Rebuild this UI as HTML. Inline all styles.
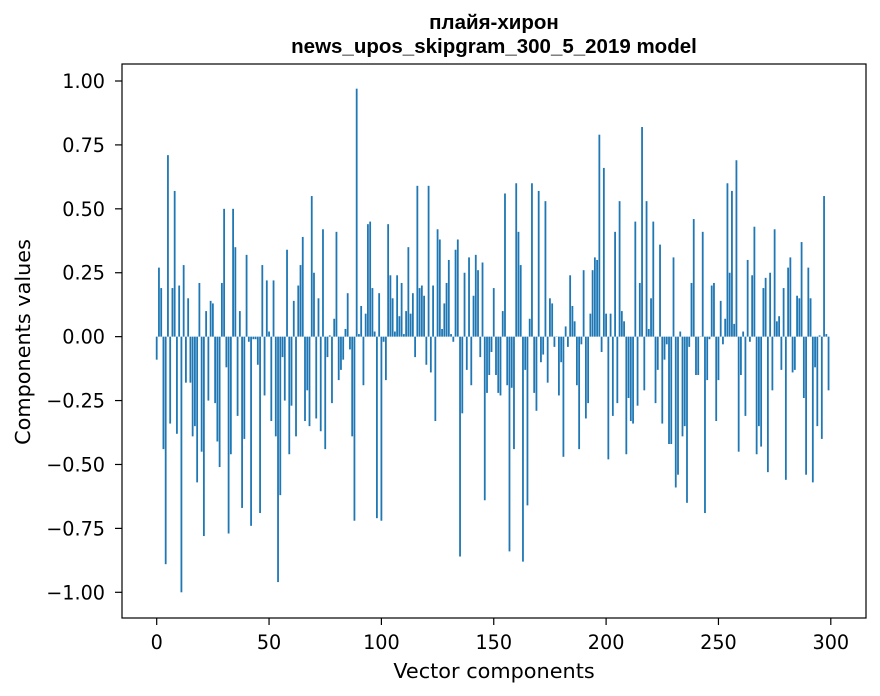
<!DOCTYPE html>
<html><head><meta charset="utf-8"><style>
body{margin:0;background:#fff;}
svg{display:block;font-family:"DejaVu Sans","Liberation Sans",sans-serif;}
</style></head><body>
<svg width="880" height="696" viewBox="0 0 880 696">
<rect x="0" y="0" width="880" height="696" fill="#fff"/>
<text x="494" y="29" text-anchor="middle" font-size="20.5" font-weight="bold" font-family="Liberation Sans, sans-serif">плайя-хирон</text>
<text x="494" y="53" text-anchor="middle" font-size="20.5" font-weight="bold" font-family="Liberation Sans, sans-serif">news_upos_skipgram_300_5_2019 model</text>
<g id="bars"></g>
<rect x="122" y="64" width="744" height="554" fill="none" stroke="#000" stroke-width="1.2"/>
<g id="xticks"></g>
<g id="yticks"></g>
<text x="494" y="678" text-anchor="middle" font-size="20.8">Vector components</text>
<text transform="translate(30,342) rotate(-90)" text-anchor="middle" font-size="20.8">Components values</text>
</svg>
<script>
const values = [-0.09,0.27,0.19,-0.44,-0.89,0.71,-0.34,0.19,0.57,-0.38,0.20,-1.00,0.28,-0.18,0.15,-0.18,-0.39,-0.35,-0.57,0.21,-0.45,-0.78,0.10,-0.25,0.14,0.13,-0.26,-0.41,-0.51,0.21,0.50,-0.12,-0.77,-0.46,0.50,0.35,-0.31,0.10,-0.67,-0.40,0.32,-0.02,-0.74,-0.01,-0.01,-0.11,-0.69,0.28,-0.23,0.22,0.02,
-0.33,0.22,-0.39,-0.96,-0.62,-0.08,-0.25,0.34,-0.46,-0.27,0.14,-0.39,0.20,0.28,0.39,-0.33,-0.21,-0.35,0.55,0.25,-0.32,0.15,-0.37,0.42,-0.44,-0.08,0.005,-0.26,0.07,0.41,-0.17,-0.13,-0.09,0.03,0.17,-0.05,-0.39,-0.72,0.97,0.01,0.12,-0.19,0.09,0.44,0.45,0.19,0.02,-0.71,0.17,-0.72,-0.02,
-0.17,0.44,0.24,0.15,0.02,0.24,0.08,0.21,0.01,0.10,0.35,0.09,0.17,-0.08,0.59,0.19,0.20,0.16,-0.11,0.59,-0.14,0.20,-0.33,0.42,0.38,0.03,0.13,0.21,0.30,0.01,-0.02,0.34,0.38,-0.86,-0.30,0.25,-0.13,0.31,-0.19,0.16,0.32,0.26,-0.08,0.29,-0.64,-0.22,-0.15,-0.06,0.19,-0.15,-0.22,
-0.23,0.10,0.56,-0.19,-0.84,-0.20,-0.44,0.60,0.41,0.28,-0.88,-0.13,-0.66,0.07,0.60,-0.22,-0.29,0.57,-0.10,-0.07,0.53,-0.18,0.15,0.13,-0.04,0,-0.23,-0.10,-0.47,0.04,-0.04,0.24,0.12,0.06,-0.19,-0.44,-0.03,0.26,-0.32,-0.26,0.09,0.26,0.31,0.30,0.79,-0.06,0.66,0.09,-0.48,0.09,-0.31,
0.41,-0.26,0.53,0.10,0.06,-0.46,-0.24,-0.33,-0.34,0.45,-0.27,0.21,0.82,-0.21,0.53,0.03,0.15,0.45,-0.26,-0.13,0.36,-0.34,-0.09,-0.03,-0.42,-0.42,0.31,-0.59,-0.54,0.02,-0.39,-0.35,-0.65,-0.04,0.21,0.46,-0.15,-0.15,0,0.41,-0.69,-0.17,-0.01,0.20,0.21,-0.33,-0.17,0.14,-0.03,0.07,0.60,
0.25,0.57,0.05,0.69,-0.45,-0.15,0.02,-0.31,0.30,-0.02,0.24,0.43,-0.46,-0.35,-0.43,0.19,0.23,-0.53,0.25,-0.21,0.42,0.06,0.08,-0.13,0.19,-0.56,0.27,0.31,-0.14,-0.13,0.16,0.15,0.37,-0.24,-0.54,0.27,0.15,-0.57,-0.12,-0.35,0.005,-0.40,0.55,0.01,-0.21];
const xTickValues = [0,50,100,150,200,250,300];
const xTickLabels = ["0","50","100","150","200","250","300"];
const yTickValues = [1,0.75,0.5,0.25,0,-0.25,-0.5,-0.75,-1];
const yTickLabels = ["1.00","0.75","0.50","0.25","0.00","\u22120.25","\u22120.50","\u22120.75","\u22121.00"];

const NS="http://www.w3.org/2000/svg";
function xs(v){return 156.7+2.247*v;}
function ys(v){return 336.65-255.65*v;}
const bars=document.getElementById('bars');
values.forEach((v,i)=>{
  const r=document.createElementNS(NS,'rect');
  const y0=ys(0), y1=ys(v);
  r.setAttribute('x',xs(i-0.4));
  r.setAttribute('width',2.247*0.8);
  r.setAttribute('y',Math.min(y0,y1));
  r.setAttribute('height',Math.max(Math.abs(y1-y0),0.3));
  r.setAttribute('fill','#1f77b4');
  
  
  bars.appendChild(r);
});
const xg=document.getElementById('xticks');
xTickValues.forEach((v,k)=>{
  const l=document.createElementNS(NS,'line');
  l.setAttribute('x1',xs(v));l.setAttribute('x2',xs(v));
  l.setAttribute('y1',618);l.setAttribute('y2',625);
  l.setAttribute('stroke','#000');l.setAttribute('stroke-width','1.2');
  
  
  xg.appendChild(l);
  const t=document.createElementNS(NS,'text');
  t.setAttribute('x',xs(v));t.setAttribute('y',649);
  t.setAttribute('text-anchor','middle');t.setAttribute('font-size','19.2');
  t.textContent=xTickLabels[k];
  
  
  xg.appendChild(t);
});
const yg=document.getElementById('yticks');
yTickValues.forEach((v,k)=>{
  const l=document.createElementNS(NS,'line');
  l.setAttribute('x1',115);l.setAttribute('x2',122);
  l.setAttribute('y1',ys(v));l.setAttribute('y2',ys(v));
  l.setAttribute('stroke','#000');l.setAttribute('stroke-width','1.2');
  
  
  yg.appendChild(l);
  const t=document.createElementNS(NS,'text');
  t.setAttribute('x',105);t.setAttribute('y',ys(v)+7);
  t.setAttribute('text-anchor','end');t.setAttribute('font-size','19.2');
  t.textContent=yTickLabels[k];
  
  
  yg.appendChild(t);
});
</script>
</body></html>
